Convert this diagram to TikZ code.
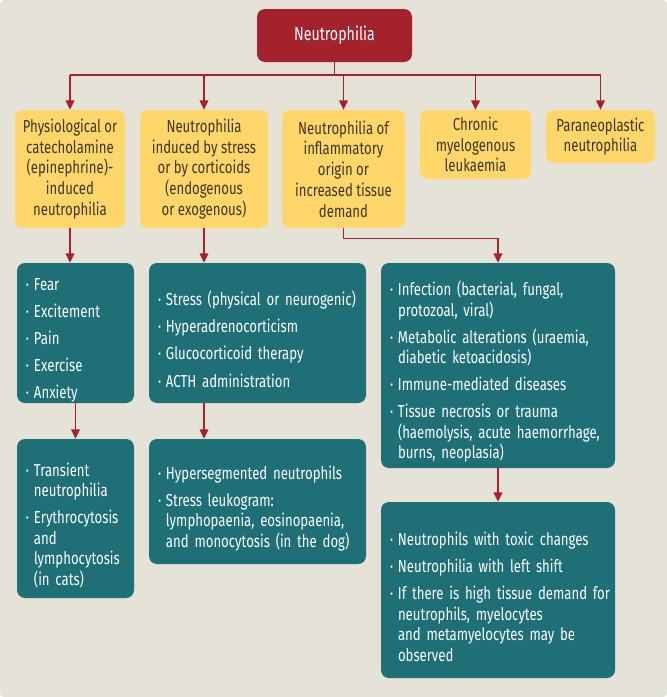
\documentclass[tikz,border=0pt]{standalone}
\usepackage{fontspec}
\setmainfont[FakeStretch=0.76]{Fira Sans}
\usetikzlibrary{arrows.meta}
\definecolor{bgbeige}{HTML}{E5E2D8}
\definecolor{nred}{HTML}{A4222B}
\definecolor{nyellow}{HTML}{FED66A}
\definecolor{nteal}{HTML}{1F6F77}
\definecolor{ntext}{HTML}{3E3628}
\newcommand{\itm}{\par\leftskip=4.75pt\hangindent=6pt\hangafter=1\noindent\makebox[6pt][l]{·}}
\newcommand{\listfont}{\fontsize{13}{15.4}\selectfont\raggedright\parskip=4.9pt\relax}
\tikzset{
  rootbox/.style={rounded corners=6pt, inner sep=0pt, fill=nred, text=white, font=\fontsize{14}{16}\selectfont},
  catbox/.style={rounded corners=6pt, inner sep=0pt, align=center, fill=nyellow, text=ntext, font=\fontsize{13}{15.6}\selectfont},
  listbox/.style={rounded corners=6pt, inner xsep=2pt, inner ysep=0pt, fill=nteal, text=white, font=\listfont},
  link/.style={draw=nred, line width=1.1pt},
  arr/.style={link, -{Triangle[width=6.5pt,length=7pt]}},
}
\begin{document}
\begin{tikzpicture}[x=0.75pt, y=-0.75pt]
\useasboundingbox (0,0) rectangle (667,697);
\fill[bgbeige, rounded corners=3pt] (0,0) rectangle (667,697);
% top
\node[rootbox, minimum width=116.25pt, minimum height=39.75pt] (root) at (334.5,35.5) {Neutrophilia};
% categories
\node[catbox, minimum width=82.5pt, minimum height=88.5pt] (phys) at (70,169) {Physiological or\\catecholamine\\(epinephrine)-\\induced\\neutrophilia};
\node[catbox, minimum width=96pt, minimum height=88.5pt] (stress) at (204,169) {Neutrophilia\\induced by stress\\or by corticoids\\(endogenous\\or exogenous)};
\node[catbox, minimum width=92.25pt, minimum height=88.5pt] (infl) at (343.5,169) {Neutrophilia of\\inflammatory\\origin or\\increased tissue\\demand};
\node[catbox, minimum width=83.25pt, minimum height=51.75pt] (cml) at (475.5,144.5) {Chronic\\myelogenous\\leukaemia};
\node[catbox, minimum width=81.75pt, minimum height=39.75pt] (para) at (600.5,136.5) {Paraneoplastic\\neutrophilia};
% causes
\node[listbox, text width=83.75pt, minimum height=105pt] (physc) at (75.5,333) {\itm Fear\itm Excitement\itm Pain\itm Exercise\itm Anxiety\par};
\node[listbox, text width=158.75pt, minimum height=105pt] (stressc) at (257.5,333) {\itm Stress (physical or neurogenic)\itm Hyperadrenocorticism\itm Glucocorticoid therapy\itm ACTH administration\par};
\node[listbox, text width=171.5pt, minimum height=153.75pt] (inflc) at (498,365.5) {\itm Infection (bacterial, fungal,\newline protozoal, viral)\itm Metabolic alterations (uraemia,\newline diabetic ketoacidosis)\itm Immune-mediated diseases\itm Tissue necrosis or trauma\newline (haemolysis, acute haemorrhage,\newline burns, neoplasia)\par};
% findings
\node[listbox, text width=83.75pt, minimum height=119.25pt] (physf) at (75.5,518.5) {\itm Transient\newline neutrophilia\itm Erythrocytosis\newline and\newline lymphocytosis\newline (in cats)\par};
\node[listbox, text width=158.75pt, minimum height=93.75pt] (stressf) at (257.5,501.5) {\itm Hypersegmented neutrophils\itm Stress leukogram:\newline lymphopaenia, eosinopaenia,\newline and monocytosis (in the dog)\par};
\node[listbox, text width=171.5pt, minimum height=132pt] (inflf) at (498,590) {\itm Neutrophils with toxic changes\itm Neutrophilia with left shift\itm If there is high tissue demand for\newline neutrophils, myelocytes\newline and metamyelocytes may be\newline observed\par};
% connectors
\coordinate (bus) at (334.5,75);
\draw[link] (root.south) -- (bus);
\draw[link] (phys.north |- bus) -- (para.north |- bus);
\foreach \n in {phys,stress,infl,cml,para}
  \draw[arr] (\n.north |- bus) -- (\n.north);
\draw[arr] (phys.south) -- (phys.south |- physc.north);
\draw[arr] (stress.south) -- (stress.south |- stressc.north);
\draw[arr] (infl.south) -- ++(0,10) -| (inflc.north);
\draw[arr] (physc.south) -- (physf.north);
\draw[arr] (stress.south |- stressc.south) -- (stress.south |- stressf.north);
\draw[arr] (inflc.south) -- (inflf.north);
\end{tikzpicture}
\end{document}
